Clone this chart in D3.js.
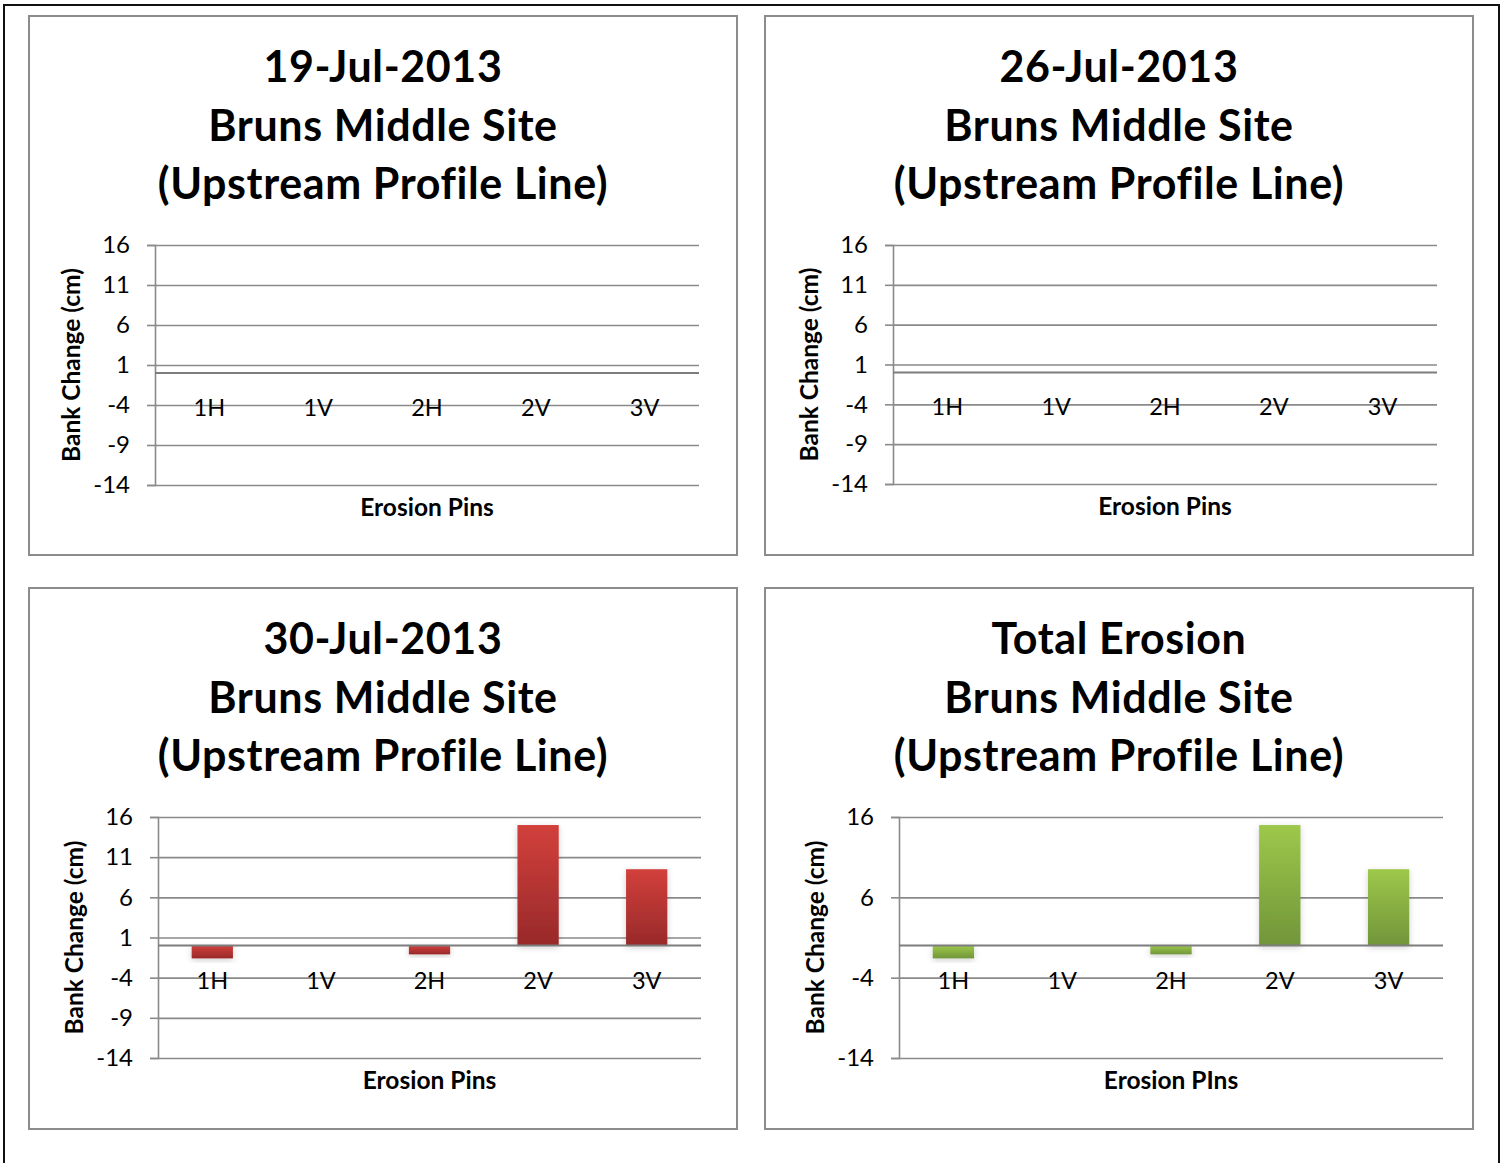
<!DOCTYPE html>
<html>
<head>
<meta charset="utf-8">
<script src="https://cdn.jsdelivr.net/npm/d3@7"></script>
<style>
  html, body { margin: 0; padding: 0; background: #fff; }
  svg { display: block; }
  text { font-family: Lato, "Open Sans", sans-serif; fill: #000; }
</style>
</head>
<body>
<div id="chart"></div>
<script>
// erosion pin readings, Bruns Middle Site, upstream profile line
const pins = ["1H", "1V", "2H", "2V", "3V"];
const jul19 = [0, 0, 0, 0, 0];
const jul26 = [0, 0, 0, 0, 0];
const jul30 = [-1.6, 0, -1.1, 15, 9.5];
const totalErosion = [-1.6, 0, -1.1, 15, 9.5];
const ticksFine = [16, 11, 6, 1, -4, -9, -14];
const ticksCoarse = [16, 6, -4, -14];
const site = "Bruns Middle Site";
const line = "(Upstream Profile Line)";

const svg = d3.select("#chart").append("svg")
  .attr("width", 1504)
  .attr("height", 1163);

const defs = svg.append("defs");
function grad(id, top, bottom) {
  const g = defs.append("linearGradient").attr("id", id)
    .attr("x1", 0).attr("y1", 0).attr("x2", 0).attr("y2", 1);
  g.append("stop").attr("offset", "0%").attr("stop-color", top);
  g.append("stop").attr("offset", "100%").attr("stop-color", bottom);
}
grad("red", "#d2403b", "#98292a");
grad("green", "#9dc84a", "#71953a");
defs.append("filter").attr("id", "shadow")
  .attr("x", "-30%").attr("y", "-30%").attr("width", "160%").attr("height", "160%")
  .append("feDropShadow")
    .attr("dx", 0).attr("dy", 2).attr("stdDeviation", 3)
    .attr("flood-color", "#000").attr("flood-opacity", 0.18);

// outer frame (bottom edge runs off the page)
svg.append("rect")
  .attr("x", 4).attr("y", 5).attr("width", 1495).attr("height", 1200)
  .attr("fill", "none").attr("stroke", "#111").attr("stroke-width", 2);

const panels = [
  { box: [29, 16, 708, 539], plot: [155, 699, 245, 485], title: "19-Jul-2013",
    values: jul19, ticks: ticksFine, color: "red", xTitle: "Erosion Pins" },
  { box: [765, 16, 708, 539], plot: [893, 1437, 245, 484], title: "26-Jul-2013",
    values: jul26, ticks: ticksFine, color: "red", xTitle: "Erosion Pins" },
  { box: [29, 588, 708, 541], plot: [158, 701, 817, 1058], title: "30-Jul-2013",
    values: jul30, ticks: ticksFine, color: "red", xTitle: "Erosion Pins" },
  { box: [765, 588, 708, 541], plot: [899, 1443, 817, 1058], title: "Total Erosion",
    values: totalErosion, ticks: ticksCoarse, color: "green", xTitle: "Erosion PIns" }
];

const gridColor = "#8a8a8a";

panels.forEach(p => {
  const [bx, by, bw, bh] = p.box;
  const [x0, x1, y0, y1] = p.plot;
  const g = svg.append("g");

  g.append("rect")
    .attr("x", bx).attr("y", by).attr("width", bw).attr("height", bh)
    .attr("fill", "#fff").attr("stroke", "#8c8c8c").attr("stroke-width", 2);

  // title, three lines
  const cx = bx + bw / 2;
  [p.title, site, line].forEach((t, i) => {
    g.append("text")
      .attr("x", cx).attr("y", by + 66 + i * 58.5)
      .attr("text-anchor", "middle")
      .style("font-size", "43px").style("font-weight", 700)
      .style("letter-spacing", "0.6px")
      .text(t);
  });

  const x = d3.scaleBand().domain(pins).range([x0, x1]);
  const y = d3.scaleLinear().domain([-14, 16]).range([y1, y0]);

  // gridlines
  g.append("g")
    .attr("transform", `translate(${x0},0)`)
    .call(d3.axisLeft(y).tickValues(p.ticks).tickSize(-(x1 - x0)).tickFormat(""))
    .call(a => a.select(".domain").remove())
    .call(a => a.selectAll("line").attr("stroke", gridColor).attr("stroke-width", 1.6));

  // outer ticks and labels
  g.append("g")
    .attr("transform", `translate(${x0},0)`)
    .call(d3.axisLeft(y).tickValues(p.ticks).tickSize(8).tickPadding(17).tickFormat(d => String(d)))
    .call(a => a.select(".domain").attr("stroke", gridColor).attr("stroke-width", 1.6))
    .call(a => a.selectAll("line").attr("stroke", gridColor).attr("stroke-width", 1.6))
    .call(a => a.selectAll("text").style("font-size", "24px").style("font-family", "Lato, sans-serif").attr("fill", "#000"));

  // bars
  const bw2 = x.bandwidth() * 0.38;
  g.append("g").selectAll("rect")
    .data(p.values.map((v, i) => ({ pin: pins[i], v })).filter(d => d.v !== 0))
    .join("rect")
      .attr("x", d => x(d.pin) + (x.bandwidth() - bw2) / 2)
      .attr("y", d => y(Math.max(0, d.v)))
      .attr("width", bw2)
      .attr("height", d => Math.abs(y(d.v) - y(0)))
      .attr("fill", `url(#${p.color})`)
      .attr("filter", "url(#shadow)");

  // zero line
  g.append("line")
    .attr("x1", x0).attr("x2", x1)
    .attr("y1", y(0)).attr("y2", y(0))
    .attr("stroke", "#7d7d7d").attr("stroke-width", 2);

  // category labels under the zero line
  g.append("g").selectAll("text")
    .data(pins)
    .join("text")
      .attr("x", d => x(d) + x.bandwidth() / 2)
      .attr("y", y(0) + 43)
      .attr("text-anchor", "middle")
      .style("font-size", "23.5px")
      .text(d => d);

  // axis titles
  g.append("text")
    .attr("transform", `translate(${x0 - 75},${(y0 + y1) / 2}) rotate(-90)`)
    .attr("text-anchor", "middle")
    .style("font-size", "24.5px").style("font-weight", 700)
    .text("Bank Change (cm)");

  g.append("text")
    .attr("x", (x0 + x1) / 2).attr("y", y1 + 31)
    .attr("text-anchor", "middle")
    .style("font-size", "24.5px").style("font-weight", 700)
    .text(p.xTitle);
});
</script>
</body>
</html>
